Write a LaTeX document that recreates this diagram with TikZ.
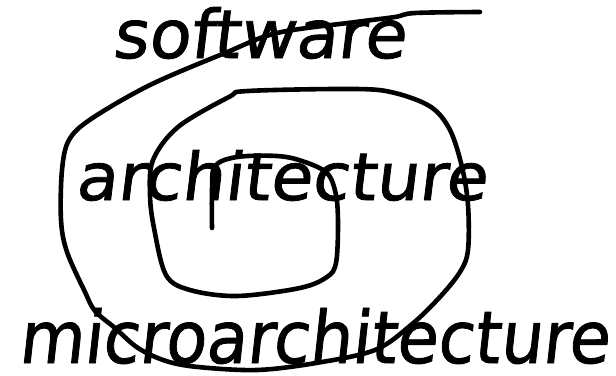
\documentclass[tikz,border=0pt]{standalone}
\usepackage{fontspec}
\newfontfamily\hand[FakeSlant=0.12,FakeBold=1.2]{DejaVu Sans}
\usepackage{graphicx}
\begin{document}
\begin{tikzpicture}[x=1pt,y=-1pt,
  ink/.style={line width=4.6pt,line cap=round,line join=round},
  word/.style={inner sep=0pt,anchor=base west}]
\useasboundingbox (0,0) rectangle (616,375);
% the spiral, from its centre outwards
\draw[ink] plot[smooth,tension=0.55] coordinates {
  (212,228) (212,190) (215,166) (237,157) (277,156) (302,161) (327,173)
  (336,195) (338,225) (336,263) (327,277) (300,288) (237,296) (190,290)
  (166,275) (154,228) (150,195) (153,160) (178,127) (229,97) (248,91)
  (356,89) (395,93) (431,107) (450,130) (462,167) (468,205) (468,250)
  (460,272) (439,298) (411,325) (375,350) (316,363) (257,370) (198,367)
  (166,361) (138,348) (115,328) (95,311) (85,292) (67,252) (61,220)
  (62,170) (69,140) (91,119) (150,85) (225,53) (277,33) (356,22)
  (395,17) (415,13) (480,12)};
% the three labels
\node[word] (sw) at (112,58) {\resizebox{293pt}{51pt}{\hand software}};
\node[word] (ar) at (75,200) {\resizebox{411pt}{50pt}{\hand architecture}};
\node[word] (ma) at (18,363) {\resizebox{590pt}{55pt}{\hand microarchitecture}};
\end{tikzpicture}
\end{document}
